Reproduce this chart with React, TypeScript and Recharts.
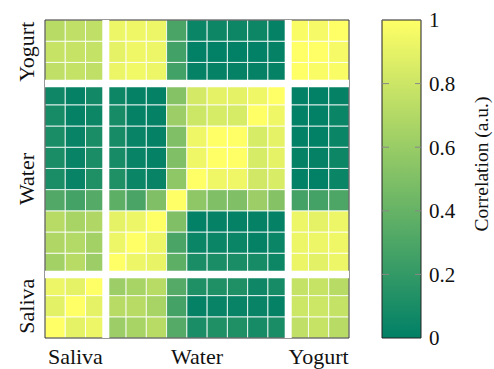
import { ScatterChart, Scatter, XAxis, YAxis, ReferenceArea, ReferenceLine, BarChart, Bar } from "recharts"

const groups = ["Saliva", "Water", "Yogurt"]
const groupSizes = [3, 9, 3]

// sample-by-sample correlation, one row per sample (saliva 1-3, water 1-9, yogurt 1-3)
const corrRows: number[][] = [
  [1, 0.9, 0.93, 0.61, 0.66, 0.72, 0.33, 0.1, 0.12, 0.12, 0.09, 0.1, 0.75, 0.78, 0.72],
  [0.89, 1, 0.9, 0.72, 0.72, 0.66, 0.27, 0.02, 0.03, 0.03, 0.03, 0.02, 0.8, 0.8, 0.77],
  [0.93, 0.9, 1, 0.61, 0.66, 0.72, 0.33, 0.12, 0.12, 0.12, 0.06, 0.09, 0.77, 0.78, 0.72],
  [0.64, 0.72, 0.61, 1, 0.93, 0.91, 0.37, 0.1, 0.1, 0.1, 0.09, 0.05, 0.92, 0.89, 0.93],
  [0.69, 0.7, 0.64, 0.93, 1, 0.93, 0.29, 0.04, 0.04, 0.04, 0.02, 0.04, 0.93, 0.93, 0.94],
  [0.72, 0.66, 0.69, 0.9, 0.93, 1, 0.5, 0.01, 0.02, 0.02, 0.02, 0.02, 0.93, 0.9, 0.93],
  [0.32, 0.27, 0.33, 0.37, 0.29, 0.5, 1, 0.56, 0.5, 0.5, 0.61, 0.52, 0.27, 0.27, 0.3],
  [0.1, 0.03, 0.12, 0.12, 0.04, 0.03, 0.56, 1, 0.94, 0.94, 0.82, 0.85, 0.01, 0.01, 0.04],
  [0.1, 0.03, 0.1, 0.09, 0.03, 0.02, 0.5, 0.94, 1, 1, 0.84, 0.9, 0.02, 0.02, 0.05],
  [0.1, 0.03, 0.1, 0.09, 0.03, 0.02, 0.5, 0.94, 1, 1, 0.84, 0.9, 0.01, 0.01, 0.04],
  [0.09, 0.02, 0.05, 0.09, 0.02, 0.02, 0.61, 0.8, 0.84, 0.84, 1, 0.94, 0.01, 0.01, 0.04],
  [0.06, 0.02, 0.07, 0.05, 0.02, 0.02, 0.52, 0.83, 0.9, 0.9, 0.94, 1, 0.01, 0.01, 0.02],
  [0.75, 0.77, 0.75, 0.92, 0.95, 0.93, 0.26, 0.02, 0.02, 0.02, 0.02, 0.02, 1, 0.98, 0.98],
  [0.78, 0.78, 0.77, 0.9, 0.94, 0.93, 0.26, 0.01, 0.01, 0.01, 0.01, 0.02, 1, 1, 0.96],
  [0.72, 0.75, 0.75, 0.93, 0.94, 0.93, 0.29, 0.04, 0.05, 0.05, 0.05, 0.02, 0.98, 0.96, 1],
]

const colorTicks = [0, 0.2, 0.4, 0.6, 0.8, 1]

const n = corrRows.length
const bounds = groupSizes.reduce((acc, s) => [...acc, acc[acc.length - 1] + s], [0])
const groupCenters = groups.map((_, k) => (bounds[k] + bounds[k + 1]) / 2)
const groupEdges = bounds.slice(1, -1)

const cells = corrRows.flatMap((row, i) => row.map((v, j) => ({ x: j, y: i, v })))

// matplotlib "summer": dark green -> yellow
function summer(v: number) {
  const r = Math.round(255 * v)
  const g = Math.round(255 * (0.5 + 0.5 * v))
  return `rgb(${r},${g},102)`
}

const font = "'Liberation Serif', 'Times New Roman', serif"
const textColor = "#111"

function groupName(v: number) {
  return groups[groupCenters.indexOf(v)]
}

function SideTick({ x, y, payload }: any) {
  return (
    <text
      transform={`translate(${x - 3},${y}) rotate(-90)`}
      textAnchor="middle"
      fontSize={22}
      fontFamily={font}
      fill={textColor}
    >
      {groupName(payload.value)}
    </text>
  )
}

function ColorbarLabel({ viewBox }: any) {
  const { x, y, width, height } = viewBox
  return (
    <text
      transform={`translate(${x + width - 6},${y + height / 2 - 15}) rotate(-90)`}
      textAnchor="middle"
      fontSize={19.5}
      fontFamily={font}
      fill={textColor}
    >
      Correlation (a.u.)
    </text>
  )
}

const scaleBar = [{ name: "scale", top: 1 }]

export default function App() {
  return (
    <div style={{ position: "absolute", left: 0, top: 0, width: 494, height: 369, background: "#fff", fontFamily: font }}>
      <div style={{ position: "absolute", left: 0, top: 0 }}>
        <ScatterChart width={360} height={369} margin={{ top: 20, right: 11, bottom: 0, left: 0 }}>
          <XAxis
            type="number"
            dataKey="x"
            domain={[0, n]}
            ticks={groupCenters}
            interval={0}
            tickFormatter={groupName}
            tickLine={false}
            axisLine={false}
            height={31}
            tickMargin={4}
            tick={{ fontSize: 22, fill: textColor, fontFamily: font }}
          />
          <YAxis
            type="number"
            dataKey="y"
            domain={[0, n]}
            ticks={groupCenters}
            interval={0}
            tickLine={false}
            axisLine={false}
            width={45}
            tick={(p: any) => <SideTick {...p} />}
          />
          {cells.map((c) => (
            <ReferenceArea
              key={`c-${c.x}-${c.y}`}
              x1={c.x}
              x2={c.x + 1}
              y1={c.y}
              y2={c.y + 1}
              fill={summer(c.v)}
              fillOpacity={1}
              stroke="#fff"
              strokeOpacity={0.8}
              strokeWidth={1}
            />
          ))}
          {groupEdges.map((e) => (
            <ReferenceLine key={`vx-${e}`} x={e} stroke="#fff" strokeWidth={7} />
          ))}
          {groupEdges.map((e) => (
            <ReferenceLine key={`hy-${e}`} y={e} stroke="#fff" strokeWidth={7.5} />
          ))}
          <ReferenceArea x1={0} x2={n} y1={0} y2={n} fill="none" stroke="#333" strokeWidth={1} />
          <Scatter data={cells} dataKey="v" isAnimationActive={false} shape={() => <g />} />
        </ScatterChart>
      </div>
      <div style={{ position: "absolute", left: 360, top: 0 }}>
        <BarChart width={134} height={369} data={scaleBar} margin={{ top: 20, right: 0, bottom: 31, left: 22 }} barCategoryGap={0}>
          <defs>
            <linearGradient id="summerScale" x1="0" y1="1" x2="0" y2="0">
              <stop offset="0" stopColor={summer(0)} />
              <stop offset="1" stopColor={summer(1)} />
            </linearGradient>
          </defs>
          <XAxis dataKey="name" hide />
          <YAxis
            orientation="right"
            domain={[0, 1]}
            ticks={colorTicks}
            interval={0}
            width={73}
            tickLine={false}
            axisLine={false}
            tick={{ fontSize: 21, fill: textColor, fontFamily: font }}
            label={{ content: (p: any) => <ColorbarLabel {...p} /> }}
          />
          <Bar dataKey="top" fill="url(#summerScale)" stroke="#222" strokeWidth={1} isAnimationActive={false} />
          {colorTicks.slice(1).map((t) => (
            <ReferenceLine key={`t-${t}`} y={t} stroke="#888" strokeDasharray="6 26 7" />
          ))}
        </BarChart>
      </div>
    </div>
  )
}
